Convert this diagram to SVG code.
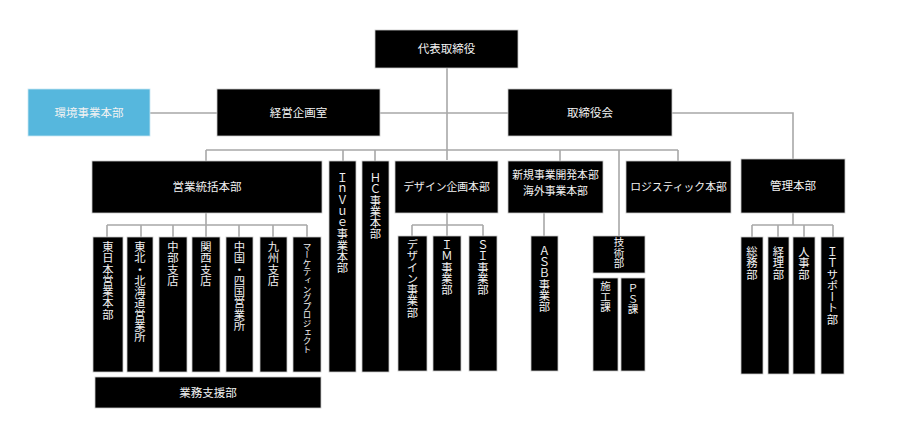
<svg xmlns="http://www.w3.org/2000/svg" width="910" height="435" viewBox="0 0 910 435">
<style>
.b{fill:#000;stroke:#c8c8c8;stroke-width:0.8}
.blue{fill:#56b7dd;stroke:#c8e6f2;stroke-width:0.8}
.t{font-family:"Noto Sans CJK JP","Noto Sans",sans-serif;font-size:11.5px;fill:#f2f2f2;text-anchor:middle}
.s{font-size:10.8px}
.v{font-family:"Noto Sans CJK JP","Noto Sans",sans-serif;font-size:11.3px;fill:#f2f2f2;writing-mode:vertical-rl;text-anchor:start}
.c{fill:none;stroke:#a8a8a8;stroke-width:1.6}
</style>
<rect width="910" height="435" fill="#fff"/>
<g id="connectors" class="c">
<path d="M447 68V160"/>
<path d="M150 113H217M380 113H508M672 113H793V159"/>
<path d="M206 150H678M206 150V161M343 150V161M375 150V161M560 150V161M619 150V236M678 150V161"/>
<path d="M206 213V225M107 225H307M107 225V237M141 225V237M173 225V237M206 225V237M239 225V237M273 225V237M307 225V237"/>
<path d="M447 213V225M412 225H483M412 225V236M447 225V236M483 225V236"/>
<path d="M544 213V236"/>
<path d="M793 213V225M752 225H833M752 225V237M778 225V237M804 225V237M833 225V237"/>
</g>
<g id="n-ceo"><rect class="b" x="375" y="30" width="143" height="38"/><text class="t" x="446.5" y="53">代表取締役</text></g>
<g id="n-env"><rect class="blue" x="28" y="89" width="122" height="47"/><text class="t" x="89" y="117">環境事業本部</text></g>
<g id="n-plan"><rect class="b" x="217" y="89" width="163" height="47"/><text class="t" x="298.5" y="117">経営企画室</text></g>
<g id="n-board"><rect class="b" x="508" y="89" width="164" height="47"/><text class="t" x="590" y="117">取締役会</text></g>
<g id="n-sales"><rect class="b" x="92" y="161" width="230" height="52"/><text class="t" x="207" y="191">営業統括本部</text></g>
<g id="n-invue"><rect class="b" x="329" y="161" width="27" height="211"/><text class="v" x="342.5" y="172">ＩｎＶｕｅ事業本部</text></g>
<g id="n-hc"><rect class="b" x="362" y="161" width="27" height="211"/><text class="v" x="375.5" y="172">ＨＣ事業本部</text></g>
<g id="n-design"><rect class="b" x="395" y="161" width="103" height="52"/><text class="t s" x="446.5" y="191">デザイン企画本部</text></g>
<g id="n-new"><rect class="b" x="508" y="161" width="95" height="52"/><text class="t s" x="555.5" y="179">新規事業開発本部</text><text class="t s" x="555.5" y="195">海外事業本部</text></g>
<g id="n-logi"><rect class="b" x="626" y="161" width="105" height="52"/><text class="t s" x="678.5" y="191">ロジスティック本部</text></g>
<g id="n-admin"><rect class="b" x="741" y="159" width="104" height="54"/><text class="t" x="793" y="190">管理本部</text></g>
<g id="n-east"><rect class="b" x="93" y="237" width="30" height="135"/><text class="v" x="108" y="241">東日本営業本部</text></g>
<g id="n-tohoku"><rect class="b" x="127" y="237" width="26" height="135"/><text class="v" x="140" y="241">東北・北海道営業所</text></g>
<g id="n-chubu"><rect class="b" x="159" y="237" width="28" height="135"/><text class="v" x="173" y="241">中部支店</text></g>
<g id="n-kansai"><rect class="b" x="192" y="237" width="28" height="135"/><text class="v" x="206" y="241">関西支店</text></g>
<g id="n-chugoku"><rect class="b" x="226" y="237" width="27" height="135"/><text class="v" x="239.5" y="241">中国・四国営業所</text></g>
<g id="n-kyushu"><rect class="b" x="260" y="237" width="27" height="135"/><text class="v" x="273.5" y="241">九州支店</text></g>
<g id="n-mkt"><rect class="b" x="293" y="237" width="28" height="135"/><text class="v" x="307" y="242" style="font-size:8.6px">マーケティングプロジェクト</text></g>
<g id="n-support"><rect class="b" x="95" y="377" width="226" height="31"/><text class="t" x="208" y="397">業務支援部</text></g>
<g id="n-designdiv"><rect class="b" x="398" y="236" width="29" height="135"/><text class="v" x="412.5" y="239">デザイン事業部</text></g>
<g id="n-im"><rect class="b" x="433" y="236" width="28" height="135"/><text class="v" x="447" y="239">ＩＭ事業部</text></g>
<g id="n-si"><rect class="b" x="469" y="236" width="28" height="135"/><text class="v" x="483" y="239">ＳＩ事業部</text></g>
<g id="n-asb"><rect class="b" x="531" y="236" width="27" height="135"/><text class="v" x="544.5" y="245">ＡＳＢ事業部</text></g>
<g id="n-tech"><rect class="b" x="593" y="236" width="52" height="37"/><text class="v" x="619" y="237" style="font-size:10.5px">技術部</text></g>
<g id="n-const"><rect class="b" x="593" y="278" width="25" height="93"/><text class="v" x="605.5" y="281" style="font-size:10.5px">施工課</text></g>
<g id="n-ps"><rect class="b" x="621" y="278" width="24" height="93"/><text class="v" x="633" y="283" style="font-size:10.5px">ＰＳ課</text></g>
<g id="n-general"><rect class="b" x="741" y="237" width="22" height="137"/><text class="v" x="752" y="246">総務部</text></g>
<g id="n-acct"><rect class="b" x="768" y="237" width="21" height="137"/><text class="v" x="778.5" y="246">経理部</text></g>
<g id="n-hr"><rect class="b" x="793" y="237" width="22" height="137"/><text class="v" x="804" y="246">人事部</text></g>
<g id="n-it"><rect class="b" x="821" y="237" width="23" height="137"/><text class="v" x="832.5" y="246">ＩＴサポート部</text></g>
</svg>
